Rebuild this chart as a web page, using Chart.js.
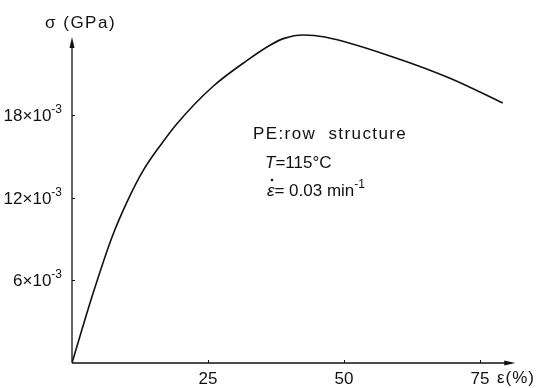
<!DOCTYPE html>
<html>
<head>
<meta charset="utf-8">
<script src="https://cdn.jsdelivr.net/npm/chart.js@4/dist/chart.umd.min.js"></script>
<style>
  html, body { margin: 0; padding: 0; background: #fff; }
  #wrap { width: 538px; height: 388px; }
</style>
</head>
<body>
<div id="wrap"><canvas id="stress-chart" width="538" height="388"></canvas></div>
<script>
  // strain (%) vs. stress (10^-3 GPa)
  var strain = [0, 3.9, 7.4, 10.1, 13.1, 16.2, 19.3, 25.9, 32.2, 36.4, 39.0, 42.5, 46.5, 59.0, 69.5, 79.2];
  var stress = [0, 5.1, 9.2, 11.7, 14.0, 15.8, 17.4, 20.1, 22.0, 23.1, 23.6, 23.85, 23.7, 22.25, 20.7, 18.9];

  var xTicks = [25, 50, 75];
  var yTicks = [6, 12, 18];
  var yTickLabels = ['6\u00d710', '12\u00d710', '18\u00d710'];

  var ink = '#111';
  var font = '"Liberation Sans", Arial, sans-serif';

  // draw a list of [text, style] pieces, style: 'n' normal, 'i' italic, 's' superscript
  function drawPieces(ctx, pieces, x, y, size, align) {
    var total = 0;
    pieces.forEach(function(p) {
      ctx.font = (p[1] === 'i' ? 'italic ' : '') + (p[1] === 's' ? Math.round(size * 0.7) : size) + 'px ' + font;
      total += ctx.measureText(p[0]).width;
    });
    var cx = align === 'right' ? x - total : x;
    pieces.forEach(function(p) {
      var sz = p[1] === 's' ? Math.round(size * 0.7) : size;
      ctx.font = (p[1] === 'i' ? 'italic ' : '') + sz + 'px ' + font;
      ctx.fillText(p[0], cx, p[1] === 's' ? y - size * 0.38 : y);
      cx += ctx.measureText(p[0]).width;
    });
    return total;
  }

  /// AXES, ARROWS, TEXT ///
  var axesPlugin = {
    id: 'axesPlugin',
    afterDraw: function(chart) {
      var ctx = chart.ctx;
      var xs = chart.scales.x, ys = chart.scales.y;
      var x0 = xs.getPixelForValue(0), y0 = ys.getPixelForValue(0);
      var xEnd = xs.getPixelForValue(81.5), yEnd = ys.getPixelForValue(23.7);

      ctx.save();
      ctx.strokeStyle = ink;
      ctx.fillStyle = ink;
      ctx.lineWidth = 1.3;

      ctx.beginPath();
      ctx.moveTo(x0, y0); ctx.lineTo(xEnd - 6, y0);
      ctx.moveTo(x0, y0); ctx.lineTo(x0, yEnd + 6);
      ctx.stroke();

      // arrow heads
      ctx.beginPath();
      ctx.moveTo(xEnd, y0); ctx.lineTo(xEnd - 11, y0 - 2.5); ctx.lineTo(xEnd - 11, y0 + 2.5);
      ctx.closePath(); ctx.fill();
      ctx.beginPath();
      ctx.moveTo(x0, yEnd); ctx.lineTo(x0 - 2.5, yEnd + 11); ctx.lineTo(x0 + 2.5, yEnd + 11);
      ctx.closePath(); ctx.fill();

      // small inward ticks
      ctx.lineWidth = 1;
      ctx.beginPath();
      xTicks.forEach(function(v) {
        var px = Math.round(xs.getPixelForValue(v)) + 0.5;
        ctx.moveTo(px, y0); ctx.lineTo(px, y0 - 3);
      });
      yTicks.forEach(function(v) {
        var py = Math.round(ys.getPixelForValue(v)) + 0.5;
        ctx.moveTo(x0, py); ctx.lineTo(x0 + 3, py);
      });
      ctx.stroke();

      ctx.textBaseline = 'middle';
      ctx.textAlign = 'left';

      // y tick labels  n x 10^-3
      yTicks.forEach(function(v, i) {
        drawPieces(ctx, [[yTickLabels[i], 'n'], ['-3', 's']], 62, ys.getPixelForValue(v) + 1, 17, 'right');
      });

      // axis titles
      ctx.letterSpacing = '1.5px';
      drawPieces(ctx, [['\u03c3 (GPa)', 'n']], 45, 23, 17);
      ctx.letterSpacing = '1px';
      drawPieces(ctx, [['\u03b5(%)', 'n']], 497, 378, 17);

      // annotation
      ctx.letterSpacing = '1.4px';
      drawPieces(ctx, [['PE:row  structure', 'n']], 253, 134, 17);
      ctx.letterSpacing = '0px';
      drawPieces(ctx, [['T', 'i'], ['=115\u00b0C', 'n']], 265, 163, 17);
      drawPieces(ctx, [['\u03b5', 'i'], ['= 0.03 min', 'n'], ['-1', 's']], 267, 191, 17);
      ctx.beginPath();
      ctx.arc(272, 180, 1.3, 0, Math.PI * 2);
      ctx.fill();

      ctx.restore();
    }
  };

  var ctx = document.getElementById('stress-chart').getContext('2d');
  var stressChart = new Chart(ctx, {
    type: 'line',
    data: {
      datasets: [{
        data: strain.map(function(x, i) { return { x: x, y: stress[i] }; }),
        borderColor: ink,
        borderWidth: 1.6,
        pointRadius: 0,
        fill: false,
        cubicInterpolationMode: 'monotone'
      }]
    },
    options: {
      responsive: false,
      animation: false,
      layout: { padding: { top: 26, right: 20, left: 0, bottom: 0 } },
      plugins: { legend: { display: false }, tooltip: { enabled: false } },
      scales: {
        x: {
          type: 'linear',
          min: 0, max: 82,
          grid: { display: false, drawTicks: false },
          border: { display: false },
          afterBuildTicks: function(scale) {
            scale.ticks = xTicks.map(function(v) { return { value: v }; });
          },
          afterFit: function(scale) { scale.height = 25; },
          ticks: { color: ink, padding: 6, maxRotation: 0, font: { size: 17, family: font } }
        },
        y: {
          type: 'linear',
          min: 0, max: 24.5,
          grid: { display: false, drawTicks: false },
          border: { display: false },
          afterBuildTicks: function(scale) {
            scale.ticks = yTicks.map(function(v) { return { value: v }; });
          },
          afterFit: function(scale) { scale.width = 72; },
          ticks: { display: false }
        }
      }
    },
    plugins: [axesPlugin]
  });
</script>
</body>
</html>
